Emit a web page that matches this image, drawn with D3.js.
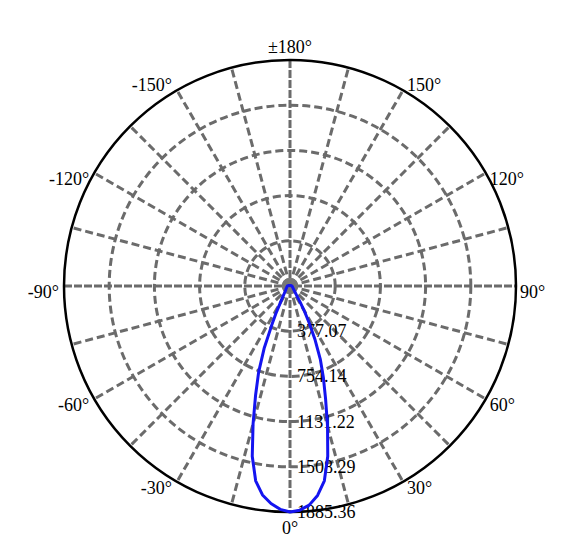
<!DOCTYPE html>
<html>
<head>
<meta charset="utf-8">
<script src="https://cdn.jsdelivr.net/npm/d3@7"></script>
<style>
  html, body { margin: 0; padding: 0; background: #fff; }
  text { font-family: "Liberation Serif", "Times New Roman", serif; font-size: 18px; fill: #000; }
</style>
</head>
<body>
<svg id="chart" width="573" height="553"></svg>
<script>
// luminous intensity (cd) per C-plane angle
var curveAngles = [-180, -150, -120, -105, -90, -80, -70, -60, -55, -50, -45, -40,
                   -35, -32.5, -30, -27.5, -25, -22.5, -20, -17.5, -15, -12.5, -10, -7.5, -5, -2.5,
                   0, 2.5, 5, 7.5, 10, 12.5, 15, 17.5, 20, 22.5, 25, 27.5, 30, 32.5, 35,
                   40, 45, 50, 55, 60, 70, 80, 90, 105, 120, 150, 180];
var curveValues = [3, 5, 9, 14, 22, 25, 29, 35, 40, 45, 54, 68,
                   94, 122, 162, 245, 360, 565, 765, 955, 1190, 1455, 1650, 1758, 1822, 1865,
                   1885.36, 1872, 1835, 1762, 1650, 1455, 1210, 987, 815, 660, 495, 345, 234, 150, 100,
                   63, 46, 37, 31, 27, 22, 18, 16, 12, 8, 5, 3];

var ringTicks = [377.07, 754.14, 1131.22, 1508.29, 1885.36];
var ringLabels = ["377.07", "754.14", "1131.22", "1508.29", "1885.36"];

var labelAngles = [180, -150, -120, -90, -60, -30, 0, 30, 60, 90, 120, 150];
var labelTexts = ["±180°", "-150°", "-120°", "-90°", "-60°", "-30°", "0°", "30°", "60°", "90°", "120°", "150°"];

var cx = 290, cy = 286, R = 226;
var gridColor = "#6b6b6b";

var svg = d3.select("#chart");
svg.append("rect").attr("width", 573).attr("height", 553).attr("fill", "#fff");
var g = svg.append("g").attr("transform", "translate(" + cx + "," + cy + ")");

var rScale = d3.scaleLinear().domain([0, 1885.36]).range([0, R]);
// 0 deg points down, +90 to the right
var aScale = d3.scaleLinear().domain([-180, 180]).range([2 * Math.PI, 0]);

function px(deg, r) { return r * Math.sin(deg * Math.PI / 180); }
function py(deg, r) { return r * Math.cos(deg * Math.PI / 180); }

// dashed rings
g.selectAll(".ring")
  .data(ringTicks.slice(0, -1))
  .enter().append("circle")
  .attr("r", function(d) { return rScale(d); })
  .attr("fill", "none")
  .attr("stroke", gridColor)
  .attr("stroke-width", 3)
  .attr("stroke-dasharray", "8,4");

// spokes every 15 deg
var spokes = d3.range(-165, 180, 15).filter(function(d) { return d % 90 !== 0; });
g.selectAll(".spoke")
  .data(spokes)
  .enter().append("line")
  .attr("x1", 0).attr("y1", 0)
  .attr("x2", function(d) { return px(d, R); })
  .attr("y2", function(d) { return py(d, R); })
  .attr("stroke", gridColor)
  .attr("stroke-width", 3)
  .attr("stroke-dasharray", "8,4");

// main axes
[0, 90].forEach(function(d) {
  g.append("line")
    .attr("x1", px(d, -R)).attr("y1", py(d, -R))
    .attr("x2", px(d, R)).attr("y2", py(d, R))
    .attr("stroke", gridColor)
    .attr("stroke-width", 3)
    .attr("stroke-dasharray", "8,2");
});

// ring value labels
g.selectAll(".rlabel")
  .data(ringTicks)
  .enter().append("text")
  .attr("x", 7)
  .attr("y", function(d) { return rScale(d) + 6; })
  .text(function(d, i) { return ringLabels[i]; });

// outer circle
g.append("circle")
  .attr("r", R)
  .attr("fill", "none")
  .attr("stroke", "#000")
  .attr("stroke-width", 2.5);

// centre dot
g.append("circle").attr("r", 8).attr("fill", "#777");

// intensity curve
var line = d3.lineRadial()
  .angle(function(d, i) { return aScale(curveAngles[i]); })
  .radius(function(d) { return rScale(d); })
  .curve(d3.curveLinearClosed);

g.append("path")
  .datum(curveValues)
  .attr("d", line)
  .attr("fill", "none")
  .attr("stroke", "#1414f0")
  .attr("stroke-width", 3)
  .attr("stroke-linejoin", "round");

// angle labels
g.selectAll(".alabel")
  .data(labelAngles)
  .enter().append("text")
  .attr("text-anchor", function(d) {
    var s = Math.sin(d * Math.PI / 180);
    return s > 0.01 ? "start" : (s < -0.01 ? "end" : "middle");
  })
  .attr("x", function(d) {
    var s = Math.sin(d * Math.PI / 180);
    return px(d, R) + (s > 0.01 ? 4 : (s < -0.01 ? -5 : 0));
  })
  .attr("y", function(d) {
    var c = Math.cos(d * Math.PI / 180);
    if (c > 0.99) return R + 22;
    if (c < -0.99) return -R - 7;
    return py(d, R) + (c < -0.7 ? 1 : 12);
  })
  .text(function(d, i) { return labelTexts[i]; });
</script>
</body>
</html>
